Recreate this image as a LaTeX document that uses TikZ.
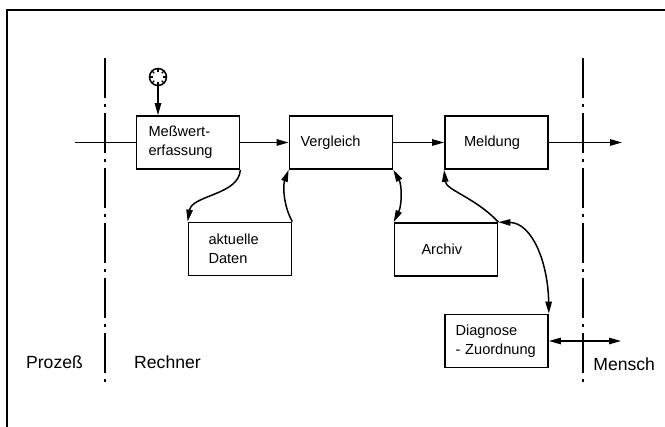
\documentclass[tikz,border=0pt]{standalone}
\usepackage{fontspec}
\setmainfont{Liberation Sans}
\usepackage{tikz}
\usetikzlibrary{arrows.meta}

\tikzset{
  box/.style={draw, line width=0.85pt, minimum width=51.5pt, minimum height=26.5pt,
    inner xsep=0pt, align=left, font=\fontsize{7.3}{9.5}\selectfont},
  pfeil/.style={line width=0.75pt, -{Triangle[length=6pt,width=3.2pt]}},
  doppelpfeil/.style={line width=0.75pt,
    {Triangle[length=6pt,width=3.2pt]}-{Triangle[length=6pt,width=3.2pt]}},
  grenze/.style={line width=0.85pt, dash pattern=on 20pt off 3pt on 1.5pt off 3pt},
  bereich/.style={font=\fontsize{8.8}{10}\selectfont, inner sep=0pt}
}

\begin{document}
\begin{tikzpicture}[x=0.5pt,y=0.5pt,yscale=-1,xscale=1]
\useasboundingbox (0,0) rectangle (665,427);

%Frame
\draw[line width=1pt] (7,427) -- (7,10) -- (665,10);

%Dash-dot lines
\draw[grenze] (105,58) -- (105,385);
\draw[grenze] (583,58) -- (583,388);

%Boxes
\node[box, text width=39.5pt] (messung) at (188,142.5) {Meßwert-\\erfassung};
\node[box, text width=40.5pt] (vergleich) at (341,142.5) {Vergleich};
\node[box, text width=32.5pt] (meldung) at (496.5,142.5) {Meldung};
\node[box, text width=31.5pt] (daten) at (240,249) {aktuelle\\Daten};
\node[box, text width=24.5pt] (archiv) at (446,249.5) {Archiv};
\node[box, text width=41pt] (diagnose) at (496.5,341) {Diagnose\\\mbox{- Zuordnung}};

%Clock
\node[draw, circle, minimum size=8.5pt, inner sep=0pt, line width=0.75pt] (uhr) at (158,77) {};
\foreach \w in {0,45,...,315}
  \draw[line width=0.6pt, shift={(uhr.center)}] (\w:2.6pt) -- (\w:4.2pt);
\draw[pfeil] (uhr.south) -- (uhr.south |- messung.north);

%Main line
\coordinate (ein) at (75,142.5);
\coordinate (aus) at (622,142.5);
\draw[line width=0.75pt] (ein) -- (messung.west);
\draw[pfeil] (messung.east) -- (vergleich.west);
\draw[pfeil] (vergleich.east) -- (meldung.west);
\draw[pfeil] (meldung.east) -- (aus);

%Curves
\draw[pfeil] (messung.south east) .. controls (239,195) and (192,195) .. (daten.north west);
\draw[pfeil] (daten.north east) .. controls (283,205) and (283,185) .. (vergleich.south west);
\draw[doppelpfeil] (vergleich.south east) .. controls (402,185) and (402,205) .. (archiv.north west);
\draw[pfeil] (archiv.north east) .. controls (476,198) and (446,190) .. (meldung.south west);
\draw[doppelpfeil] (diagnose.north east) .. controls (548,262) and (532,223) .. (archiv.north east);

%Mensch
\coordinate (mensch) at (621,341);
\draw[doppelpfeil] (diagnose.east) -- (mensch);

%Labels
\node[bereich] (prozess) at (54.5,362) {Prozeß};
\node[bereich] (rechner) at (167.5,362) {Rechner};
\node[bereich, anchor=west] (mensch-t) at (593,364) {Mensch};

\end{tikzpicture}
\end{document}
